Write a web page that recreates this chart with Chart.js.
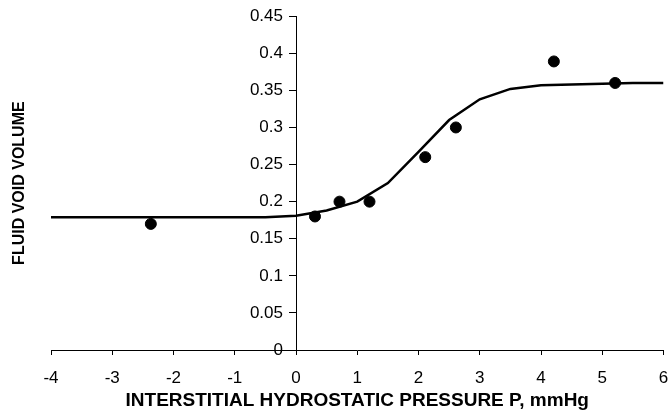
<!DOCTYPE html>
<html>
<head>
<meta charset="utf-8">
<script src="https://cdn.jsdelivr.net/npm/chart.js@4"></script>
<style>
    body { margin: 0; background: #fff; }
    #wrap { width: 670px; height: 414px; position: relative; }
</style>
</head>
<body>
<div id="wrap"><canvas id="chart"></canvas></div>
<script>
// fitted curve (sampled every 0.5 mmHg)
const curveX = [-4, -3.5, -3, -2.5, -2, -1.5, -1, -0.5, 0, 0.5, 1, 1.5, 2, 2.5, 3, 3.5, 4, 4.5, 5, 5.5, 6];
const curveY = [0.179, 0.179, 0.179, 0.179, 0.179, 0.179, 0.179, 0.179, 0.181, 0.188, 0.2, 0.225, 0.267, 0.31, 0.338, 0.352, 0.357, 0.358, 0.359, 0.36, 0.36];

// measured points
const measX = [-2.37, 0.31, 0.71, 1.2, 2.11, 2.61, 4.21, 5.21];
const measY = [0.17, 0.18, 0.2, 0.2, 0.26, 0.3, 0.389, 0.36];

const xTitle = 'INTERSTITIAL HYDROSTATIC PRESSURE P, mmHg';
const yTitle = 'FLUID VOID VOLUME';

Chart.defaults.font.family = 'Arial, "Liberation Sans", sans-serif';
Chart.defaults.color = '#000';

// y axis crossing at x = 0: put the labels left of the tick marks
class CrossLinearScale extends Chart.LinearScale {
    _computeLabelItems(chartArea) {
        const items = super._computeLabelItems(chartArea);
        const shift = this.options.grid.tickLength + this.options.ticks.padding;
        items.forEach(item => {
            if (item.options && item.options.translation) item.options.translation[0] -= shift;
        });
        return items;
    }
}
CrossLinearScale.id = 'crossLinear';
CrossLinearScale.defaults = Chart.LinearScale.defaults;
Chart.register(CrossLinearScale);

const toPoints = (xs, ys) => xs.map((x, i) => ({ x: x, y: ys[i] }));

new Chart(document.getElementById('chart'), {
    type: 'scatter',
    data: {
        datasets: [{
            label: 'fit',
            data: toPoints(curveX, curveY),
            showLine: true,
            borderColor: '#000',
            borderWidth: 2.5,
            pointRadius: 0,
            tension: 0
        }, {
            label: 'measured',
            data: toPoints(measX, measY),
            backgroundColor: '#000',
            borderColor: '#000',
            pointRadius: 5.5,
            pointHoverRadius: 5.5
        }]
    },
    options: {
        responsive: true,
        maintainAspectRatio: false,
        animation: false,
        layout: { padding: { left: 0, right: 4, top: 15, bottom: 2 } },
        plugins: {
            legend: { display: false },
            tooltip: { enabled: false }
        },
        scales: {
            x: {
                type: 'linear',
                position: 'bottom',
                min: -4,
                max: 6,
                ticks: { stepSize: 1, padding: 13, font: { size: 17 } },
                grid: { drawOnChartArea: false, tickLength: 5, color: '#000' },
                border: { color: '#000', width: 1 },
                title: {
                    display: true,
                    text: xTitle,
                    font: { size: 19, weight: 'bold' },
                    padding: { top: 0, bottom: 0 }
                },
                afterFit: scale => {
                    scale.height = 62;
                    scale.paddingRight = 0;
                }
            },
            y: {
                type: 'crossLinear',
                position: { x: 0 },
                min: 0,
                max: 0.45,
                ticks: {
                    stepSize: 0.05,
                    padding: 6,
                    font: { size: 17 },
                    callback: v => String(Number(v.toFixed(2)))
                },
                grid: { drawOnChartArea: false, tickLength: 7, color: '#000' },
                border: { color: '#000', width: 1 }
            },
            yTitleAxis: {
                type: 'linear',
                position: 'left',
                axis: 'y',
                ticks: { display: false },
                grid: { display: false },
                border: { display: false },
                title: {
                    display: true,
                    text: yTitle,
                    font: { size: 16, weight: 'bold' },
                    padding: { top: 10, bottom: 0 }
                },
                afterFit: scale => {
                    scale.width = 51;
                }
            }
        }
    }
});
</script>
</body>
</html>
